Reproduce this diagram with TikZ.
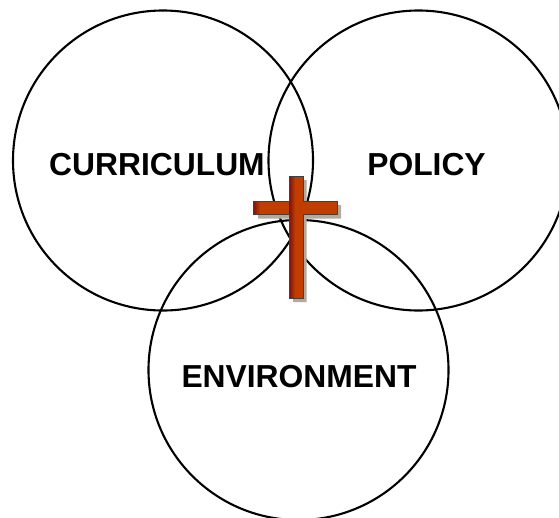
\documentclass[tikz,border=0pt]{standalone}
\usepackage{fontspec}
\setmainfont{Liberation Sans}
\definecolor{crossfill}{RGB}{192,62,0}
\definecolor{crossdark}{RGB}{125,15,15}
\definecolor{crossshadow}{RGB}{178,170,158}
\tikzset{
  ring/.style={draw=black,line width=2.1pt,circle,minimum size=300pt,inner sep=0pt},
  lbl/.style={font=\bfseries\fontsize{31.8}{36}\selectfont,text=black,inner sep=0pt,anchor=base},
  crossedge/.style={draw=black!75,line width=0.7pt}
}
\begin{document}
\begin{tikzpicture}[x=1pt,y=-1pt]
\useasboundingbox (0,0) rectangle (559,517);
\begin{scope}
\clip (0,0) rectangle (559,517);
\node[ring] (curr) at (163,160.5) {};
\node[ring] (poli) at (418.5,160.5) {};
\node[ring] (envi) at (298.5,370) {};
\end{scope}
\node[lbl] (t1) at (157,175) {CURRICULUM};
\node[lbl] (t2) at (426.5,175) {POLICY};
\node[lbl] (t3) at (299,387) {ENVIRONMENT};
% cross shadow
\fill[crossshadow] (293,180) -- (306.5,180) -- (306.5,205) -- (341,205) -- (341,218.5) -- (306.5,218.5) -- (306.5,302) -- (293,302) -- (293,218.5) -- (258,218.5) -- (258,205) -- (293,205) -- cycle;
% cross body
\fill[crossfill] (289,176) -- (303,176) -- (303,201) -- (337,201) -- (337,214) -- (303,214) -- (303,298) -- (289,298) -- (289,214) -- (253,214) -- (253,201) -- (289,201) -- cycle;
\shade[left color=crossdark,right color=crossfill] (289,176) rectangle (295,298);
\shade[left color=crossdark,right color=crossfill] (253,201) rectangle (260,214);
\draw[crossedge] (289,176) -- (303,176) -- (303,201) -- (337,201) -- (337,214) -- (303,214) -- (303,298) -- (289,298) -- (289,214) -- (253,214) -- (253,201) -- (289,201) -- cycle;
\end{tikzpicture}
\end{document}
